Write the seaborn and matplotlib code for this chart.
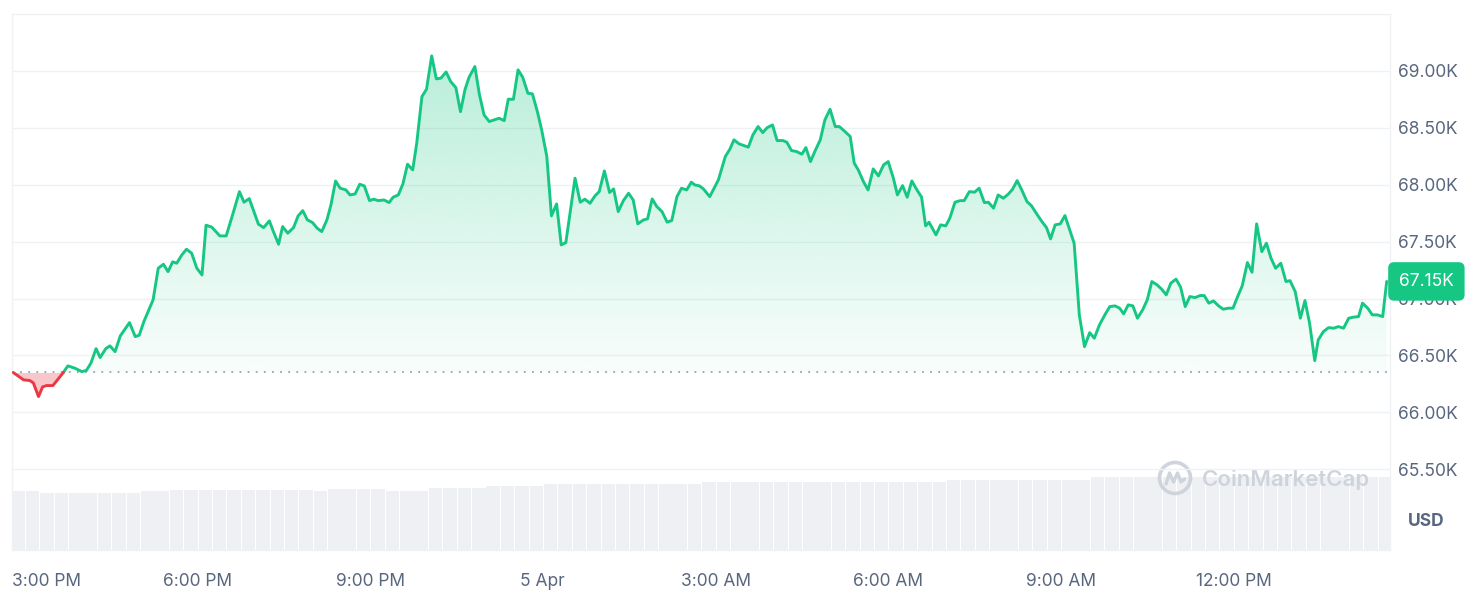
import numpy as np
import pandas as pd
import seaborn as sns
import matplotlib.pyplot as plt
from matplotlib.path import Path
from matplotlib.patches import Ellipse
from matplotlib.lines import Line2D
from matplotlib.colors import to_rgb

# price, in thousands of USD, against hours since 00:00 on 4 Apr
hours = [
    14.80, 14.98, 15.09, 15.15, 15.24, 15.31, 15.38, 15.49, 15.67, 15.75,
    15.87, 15.99, 16.07, 16.15, 16.24, 16.31, 16.41, 16.48, 16.57, 16.66,
    16.82, 16.92, 16.99, 17.07, 17.23, 17.32, 17.41, 17.49, 17.57, 17.64,
    17.73, 17.81, 17.90, 17.99, 18.08, 18.15, 18.25, 18.39, 18.50, 18.62, 18.73,
    18.81, 18.90, 18.99, 19.06, 19.15, 19.25, 19.32, 19.41, 19.48, 19.57,
    19.67, 19.75, 19.83, 19.91, 20.00, 20.08, 20.16, 20.25, 20.32, 20.40,
    20.48, 20.58, 20.65, 20.74, 20.82, 20.90, 20.99, 21.06, 21.14, 21.24,
    21.33, 21.40, 21.49, 21.57, 21.65, 21.74, 21.81, 21.90, 21.98, 22.07,
    22.15, 22.23, 22.32, 22.40, 22.49, 22.57, 22.65, 22.72,
    22.82, 22.90, 22.98, 23.07, 23.24, 23.33, 23.40, 23.49, 23.57, 23.65,
    23.74, 23.82, 23.91, 23.98, 24.07, 24.15, 24.24, 24.32, 24.40, 24.56,
    24.65, 24.73, 24.82, 24.91, 24.98, 25.07, 25.16, 25.23, 25.31, 25.40,
    25.49, 25.57, 25.65, 25.75, 25.82, 25.90, 25.98, 26.07, 26.16, 26.24,
    26.33, 26.41, 26.50, 26.58, 26.64, 26.72,
    26.79, 26.90, 27.05, 27.17, 27.25, 27.32, 27.41, 27.57, 27.65, 27.74,
    27.82, 27.90, 27.99, 28.07, 28.17, 28.24, 28.32, 28.41, 28.50, 28.57,
    28.65, 28.73, 28.82, 28.90, 28.99, 29.08, 29.15, 29.25, 29.34, 29.41,
    29.48, 29.57, 29.65, 29.74, 29.83, 29.92, 30.00, 30.09, 30.16, 30.25,
    30.33, 30.41, 30.50, 30.58, 30.65, 30.71,
    30.83, 30.91, 31.00, 31.07, 31.16, 31.25, 31.32, 31.41, 31.50, 31.58,
    31.67, 31.74, 31.83, 31.91, 32.00, 32.09, 32.16, 32.24, 32.32, 32.41,
    32.49, 32.58, 32.67, 32.75, 32.82, 32.90, 32.99, 33.07, 33.15, 33.23,
    33.28, 33.32, 33.41, 33.50, 33.58, 33.67, 33.77, 33.85, 33.94, 34.02,
    34.09, 34.17, 34.25, 34.33, 34.42, 34.50, 34.58,
    34.67, 34.75, 34.83, 34.91, 35.00, 35.08, 35.16, 35.24, 35.33, 35.42,
    35.49, 35.57, 35.65, 35.74, 35.82, 35.91, 35.99, 36.07, 36.15, 36.24,
    36.32, 36.40, 36.49, 36.57, 36.65, 36.73, 36.82, 36.91, 36.98, 37.07,
    37.16, 37.24, 37.32, 37.41, 37.47, 37.56, 37.65, 37.74, 37.82, 37.91,
    38.00, 38.08, 38.17, 38.24, 38.33, 38.41, 38.50, 38.59, 38.66,
]
prices = [
    66.350, 66.285, 66.279, 66.258, 66.138, 66.223, 66.235, 66.235, 66.349, 66.408,
    66.388, 66.358, 66.367, 66.432, 66.560, 66.481, 66.560, 66.584, 66.533, 66.671,
    66.788, 66.665, 66.678, 66.797, 66.988, 67.266, 67.301, 67.236, 67.322, 67.310,
    67.383, 67.433, 67.398, 67.266, 67.207, 67.644, 67.627, 67.550, 67.550, 67.750, 67.939,
    67.846, 67.878, 67.750, 67.653, 67.623, 67.682, 67.588, 67.477, 67.632, 67.574,
    67.623, 67.726, 67.772, 67.691, 67.667, 67.618, 67.588, 67.691, 67.823, 68.033,
    67.969, 67.954, 67.910, 67.919, 68.004, 67.989, 67.860, 67.873, 67.860, 67.866,
    67.843, 67.890, 67.910, 68.007, 68.180, 68.130, 68.365, 68.774, 68.839, 69.132,
    68.930, 68.936, 68.991, 68.906, 68.853, 68.642, 68.839, 68.945,
    69.038, 68.789, 68.613, 68.555, 68.584, 68.563, 68.751, 68.751, 69.009, 68.945,
    68.804, 68.798, 68.634, 68.482, 68.247, 67.726, 67.831, 67.471, 67.491, 68.057,
    67.846, 67.873, 67.837, 67.904, 67.939, 68.121, 67.931, 67.963, 67.764, 67.860,
    67.925, 67.866, 67.656, 67.691, 67.700, 67.875, 67.808, 67.764, 67.671, 67.685,
    67.895, 67.969, 67.954, 68.022, 67.998, 67.990,
    67.963, 67.895, 68.042, 68.247, 68.312, 68.394, 68.359, 68.330, 68.438, 68.511,
    68.458, 68.502, 68.525, 68.388, 68.388, 68.373, 68.300, 68.291, 68.268, 68.326,
    68.203, 68.297, 68.394, 68.569, 68.663, 68.511, 68.511, 68.467, 68.423, 68.189,
    68.130, 68.027, 67.954, 68.139, 68.077, 68.174, 68.203, 68.057, 67.910, 67.992,
    67.890, 68.033, 67.954, 67.890, 67.638, 67.670,
    67.559, 67.647, 67.638, 67.706, 67.846, 67.860, 67.860, 67.939, 67.934, 67.969,
    67.843, 67.846, 67.794, 67.910, 67.881, 67.919, 67.960, 68.036, 67.954, 67.852,
    67.814, 67.743, 67.676, 67.623, 67.524, 67.647, 67.656, 67.729, 67.609, 67.486,
    67.135, 66.856, 66.577, 66.700, 66.651, 66.768, 66.862, 66.929, 66.935, 66.915,
    66.865, 66.944, 66.935, 66.827, 66.900, 66.988, 67.149,
    67.120, 67.082, 67.032, 67.135, 67.170, 67.099, 66.929, 67.017, 67.008, 67.026,
    67.026, 66.959, 66.979, 66.935, 66.906, 66.915, 66.915, 67.017, 67.111, 67.316,
    67.231, 67.656, 67.412, 67.486, 67.354, 67.266, 67.310, 67.149, 67.157, 67.061,
    66.827, 66.982, 66.783, 66.454, 66.636, 66.709, 66.744, 66.739, 66.753, 66.739,
    66.827, 66.836, 66.841, 66.959, 66.915, 66.856, 66.856, 66.841, 67.150,
]

# 15 minute volume bars (arbitrary units)
volume = [
    29.5, 29.5, 28.5, 28.5, 28.5, 28.5, 28.5, 28.5, 28.5, 29.5,
    29.5, 30.0, 30.0, 30.0, 30.0, 30.0, 30.0, 30.0, 30.0, 30.0,
    30.0, 29.5, 30.5, 30.5, 30.5, 30.5, 29.5, 29.5, 29.5, 31.0,
    31.0, 31.0, 31.0, 32.0, 32.0, 32.0, 32.0, 33.0, 33.0, 33.0,
    33.0, 33.0, 33.0, 33.0, 33.0, 33.0, 33.0, 33.0, 34.0, 34.0,
    34.0, 34.0, 34.0, 34.0, 34.0, 34.0, 34.0, 34.0, 34.0, 34.0,
    34.0, 34.0, 34.0, 34.0, 34.0, 35.0, 35.0, 35.0, 35.0, 35.0,
    35.0, 35.0, 35.0, 35.0, 35.0, 36.5, 36.5, 36.5, 36.5, 36.5,
    36.5, 36.5, 36.5, 36.5, 36.5, 36.5, 36.5, 36.5, 36.5, 36.5,
    36.5, 36.5, 36.5, 36.5, 36.5, 36.5,
]
vol_start = 14.77

tick_hours = [15, 18, 21, 24, 27, 30, 33, 36]
tick_labels = ['3:00 PM', '6:00 PM', '9:00 PM', '5 Apr', '3:00 AM', '6:00 AM', '9:00 AM', '12:00 PM']
price_ticks = [65.5, 66.0, 66.5, 67.0, 67.5, 68.0, 68.5, 69.0]

GREEN = '#16c784'
RED = '#ea3943'
GREY = '#58667e'
FRAME = '#eff2f5'

sns.set_theme(style='white')
plt.rcParams['font.family'] = ['Inter', 'DejaVu Sans']

hours = np.array(hours)
prices = np.array(prices)
base = prices[0]
x0, x1 = 14.774, 38.717


def split_by_base(x, y, base):
    rows = []
    seg = 0
    prev = 'up' if y[0] >= base else 'down'
    rows.append((x[0], y[0], seg, prev))
    for i in range(1, len(x)):
        side = 'up' if y[i] >= base else 'down'
        if side != prev:
            t = (base - y[i - 1]) / (y[i] - y[i - 1])
            xc = x[i - 1] + t * (x[i] - x[i - 1])
            rows.append((xc, base, seg, prev))
            seg += 1
            rows.append((xc, base, seg, side))
        rows.append((x[i], y[i], seg, side))
        prev = side
    return pd.DataFrame(rows, columns=['hour', 'price', 'seg', 'side'])


df = split_by_base(hours, prices, base)

fig = plt.figure(figsize=(14.72, 6.12), dpi=100)
ax = fig.add_axes([11.7 / 1472, 62 / 612, 1378.3 / 1472, 536 / 612])

# volume bars on a twin axis behind the price
ax2 = ax.twinx()
vol_x = vol_start + 0.25 * np.arange(len(volume))
ax2.bar(vol_x, volume, width=0.25 * 0.94, align='edge', color='#eef0f4', linewidth=0)
ax2.set_ylim(0, 268)
ax2.set_yticks([])
for s in ax2.spines.values():
    s.set_visible(False)
ax.set_zorder(ax2.get_zorder() + 1)
ax.patch.set_visible(False)

# gradient green fill above the opening price
poly = ax.fill_between(hours, prices, base, where=prices >= base, interpolate=True,
                       facecolor='none', edgecolor='none')
clip = Path.make_compound_path(*poly.get_paths())
grad = np.zeros((256, 1, 4))
grad[..., :3] = to_rgb(GREEN)
grad[:, 0, 3] = np.linspace(0.03, 0.30, 256)
im = ax.imshow(grad, extent=[x0, x1, base, prices.max()], origin='lower',
               aspect='auto', zorder=1, interpolation='bilinear')
im.set_clip_path(clip, transform=ax.transData)

# red fill below
ax.fill_between(hours, prices, base, where=prices < base, interpolate=True,
                color=RED, alpha=0.28, linewidth=0, zorder=1)

ax.axhline(base, color='#9aa3b2', linestyle=(0, (1, 3.5)), linewidth=1.3, zorder=2)

sns.lineplot(data=df, x='hour', y='price', hue='side', units='seg', estimator=None,
             sort=False, palette={'up': GREEN, 'down': RED}, linewidth=2.1,
             legend=False, ax=ax, zorder=3)

ax.set_xlim(x0, x1)
ax.set_ylim(64.79, 69.50)
ax2.set_xlim(x0, x1)

ax.yaxis.tick_right()
ax.set_yticks(price_ticks)
ax.set_yticklabels([f'{v:.2f}K' for v in price_ticks])
ax.tick_params(axis='y', length=0, pad=5.8, labelsize=12.5, labelcolor=GREY)
ax.set_xticks([])
ax.set_xlabel('')
ax.set_ylabel('')
ax.grid(axis='y', color=FRAME, linewidth=1)
ax.set_axisbelow(True)
for s in ax.spines.values():
    s.set_color(FRAME)
    s.set_linewidth(1)

# time labels (first one held inside the frame)
for i, (h, lab) in enumerate(zip(tick_hours, tick_labels)):
    if i == 0:
        ax.text(0.0, -31 / 536, lab, transform=ax.transAxes, ha='left', va='center',
                fontsize=12.5, color=GREY)
    else:
        ax.text(h, -31 / 536, lab, transform=ax.get_xaxis_transform(), ha='center',
                va='center', fontsize=12.5, color=GREY)

# last price badge
ax.text(1.0065, prices[-1], f'{prices[-1]:.2f}K', transform=ax.get_yaxis_transform(),
        ha='left', va='center', fontsize=12.5, color='white', zorder=5, clip_on=False,
        bbox=dict(boxstyle='round,pad=0.62,rounding_size=0.35', fc=GREEN, ec='none'))

fig.text(1426 / 1472, 1 - 521 / 612, 'USD', ha='center', va='center',
         fontsize=12.5, fontweight='bold', color=GREY)

# watermark
WM = '#cfd4dc'
fig.text(1202 / 1472, 1 - 479 / 612, 'CoinMarketCap', ha='left', va='center',
         fontsize=16, fontweight='semibold', color=WM, zorder=0)
fig.add_artist(Ellipse((1175 / 1472, 1 - 478 / 612), 31 / 1472, 31 / 612,
                       transform=fig.transFigure, fill=False, edgecolor=WM, linewidth=2.6))
wx = np.array([-9, -5.5, -1.5, 2.5, 6, 9.5])
wy = np.array([6, -5, 4, -5, 4, 1])
fig.add_artist(Line2D((1175 + wx) / 1472, 1 - (478 + wy) / 612, transform=fig.transFigure,
                      color=WM, linewidth=2.4, solid_joinstyle='round', solid_capstyle='round'))

fig.savefig('out.png', dpi=100)
